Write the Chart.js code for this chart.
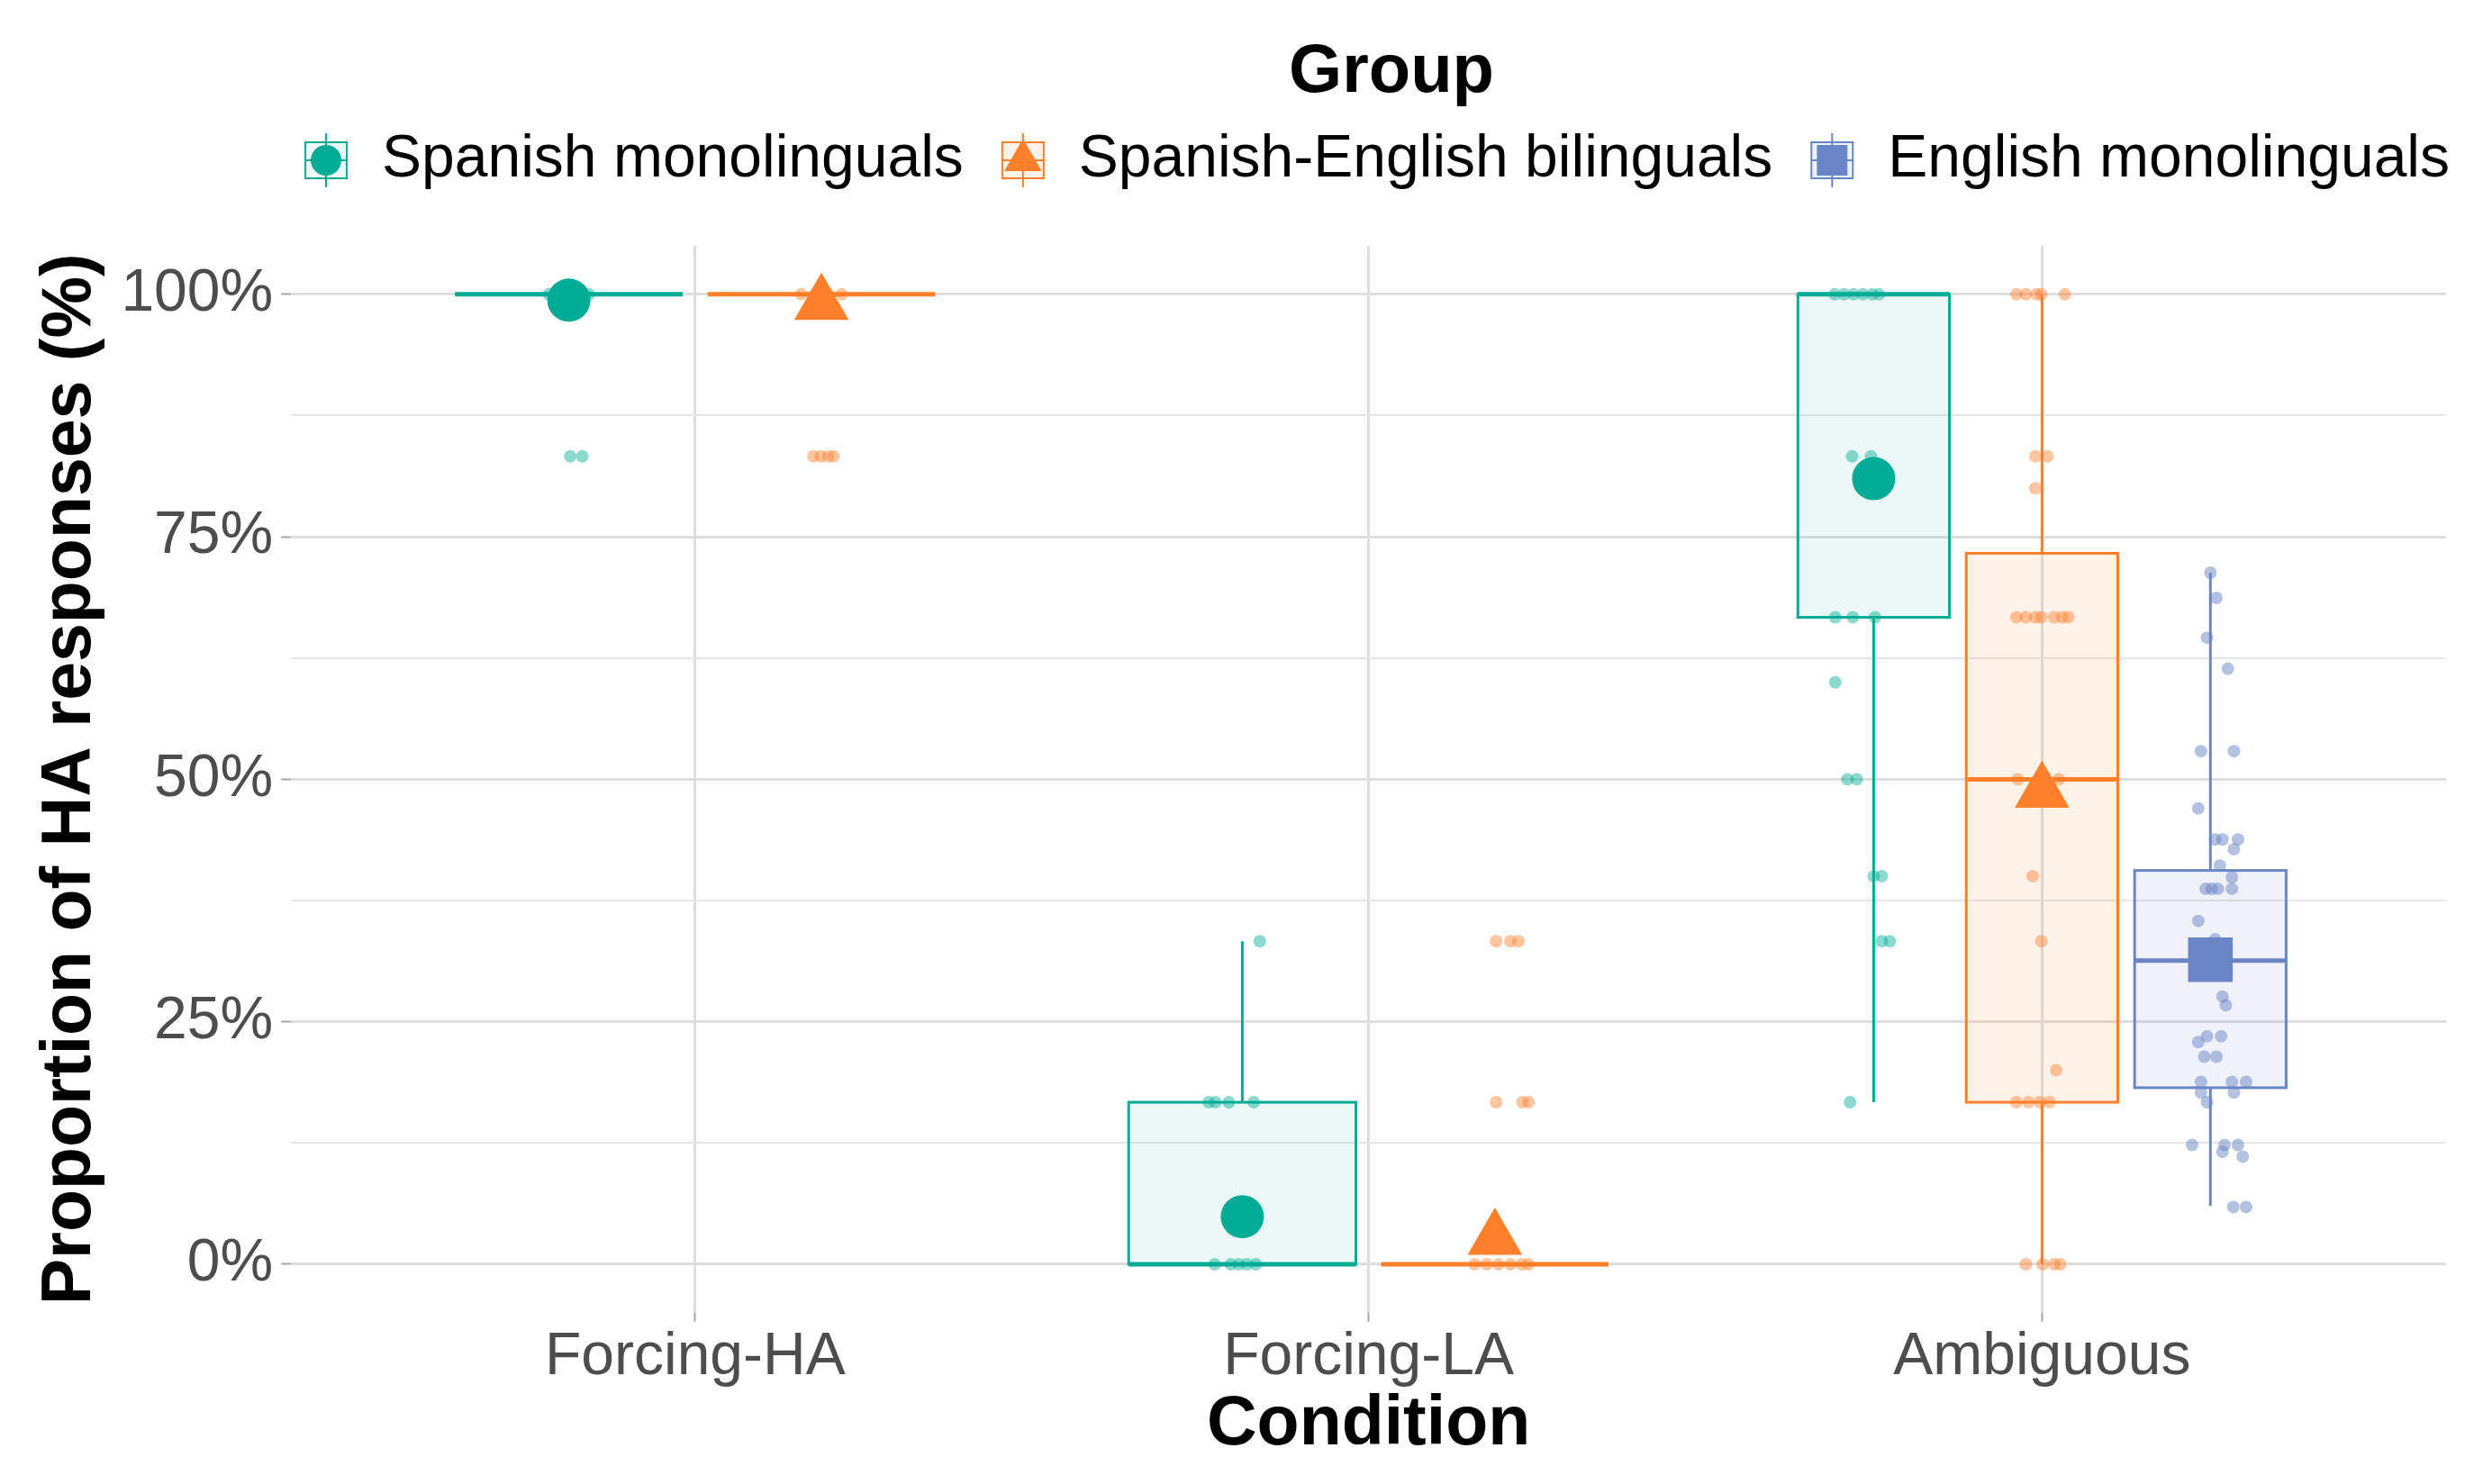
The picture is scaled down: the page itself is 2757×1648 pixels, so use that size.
<!DOCTYPE html>
<html>
<head>
<meta charset="utf-8">
<script src="https://cdn.jsdelivr.net/npm/chart.js@4.4.1/dist/chart.umd.min.js"></script>
<style>
  html, body { margin: 0; padding: 0; background: #fff; }
  #wrap { width: 2757px; height: 1648px; }
</style>
</head>
<body>
<div id="wrap"><canvas id="haChart" width="2757" height="1648"></canvas></div>
<script>
const conditions = ['Forcing-HA', 'Forcing-LA', 'Ambiguous'];
const groups = ['Spanish monolinguals', 'Spanish-English bilinguals', 'English monolinguals'];
const groupColors = ['#00AC95', '#FF7F2A', '#6A85C6'];
const boxFills = ['rgba(0,172,149,0.08)', 'rgba(255,127,42,0.1)', 'rgba(106,133,198,0.11)'];
const pointFills = ['rgba(0,172,149,0.45)', 'rgba(255,127,42,0.45)', 'rgba(106,133,198,0.5)'];
const meanStyles = ['circle', 'triangle', 'rect'];
const meanRadius = [24, 35, 35];

const yMajor = [0, 25, 50, 75, 100];
const yMinor = [12.5, 37.5, 62.5, 87.5];

// [lower whisker, Q1, median, Q3, upper whisker] per condition (null = group not tested)
const spMonoBox = [[100, 100, 100, 100, 100], [0, 0, 0, 16.7, 33.3], [16.7, 66.7, 100, 100, 100]];
const biBox = [[100, 100, 100, 100, 100], [0, 0, 0, 0, 0], [0, 16.7, 50, 73.3, 100]];
const enMonoBox = [null, null, [6.0, 18.2, 31.3, 40.6, 71.3]];

// group means per condition
const spMonoMean = [99.4, 4.9, 81.0];
const biMean = [99.0, 2.6, 48.7];
const enMonoMean = [null, null, 31.4];

// participants: [condition index, % HA responses, horizontal jitter]
const spMonoPts = [
  [0, 100, -0.03], [0, 100, -0.01], [0, 100, 0.01], [0, 100, 0.03], [0, 83.3, 0.002], [0, 83.3, 0.02],
  [1, 0, -0.041], [1, 0, -0.017], [1, 0, -0.005], [1, 0, 0.007], [1, 0, 0.02],
  [1, 16.7, -0.05], [1, 16.7, -0.04], [1, 16.7, -0.02], [1, 16.7, 0.017], [1, 33.3, 0.026],
  [2, 100, -0.058], [2, 100, -0.044], [2, 100, -0.03], [2, 100, -0.016], [2, 100, -0.002], [2, 100, 0.008],
  [2, 83.3, -0.032], [2, 83.3, -0.004],
  [2, 66.7, -0.057], [2, 66.7, -0.031], [2, 66.7, 0.002],
  [2, 60, -0.057], [2, 50, -0.039], [2, 50, -0.025], [2, 40, 0], [2, 40, 0.012],
  [2, 33.3, 0.012], [2, 33.3, 0.024], [2, 16.7, -0.035]
];
const biPts = [
  [0, 100, -0.03], [0, 100, -0.01], [0, 100, 0.01], [0, 100, 0.03],
  [0, 83.3, -0.012], [0, 83.3, -0.001], [0, 83.3, 0.01], [0, 83.3, 0.018],
  [1, 0, -0.03], [1, 0, -0.012], [1, 0, 0.005], [1, 0, 0.023], [1, 0, 0.04], [1, 0, 0.05],
  [1, 16.7, 0.002], [1, 16.7, 0.041], [1, 16.7, 0.05],
  [1, 33.3, 0.002], [1, 33.3, 0.023], [1, 33.3, 0.035],
  [2, 100, -0.038], [2, 100, -0.024], [2, 100, -0.008], [2, 100, -0.001], [2, 100, 0.034],
  [2, 83.3, -0.01], [2, 83.3, 0.008], [2, 80, -0.01],
  [2, 66.7, -0.038], [2, 66.7, -0.024], [2, 66.7, -0.01], [2, 66.7, -0.001], [2, 66.7, 0.018], [2, 66.7, 0.03], [2, 66.7, 0.039],
  [2, 50, -0.036], [2, 50, 0.025], [2, 40, -0.014], [2, 33.3, -0.001], [2, 20, 0.021],
  [2, 16.7, -0.038], [2, 16.7, -0.02], [2, 16.7, -0.003], [2, 16.7, 0.011],
  [2, 0, -0.024], [2, 0, 0.001], [2, 0, 0.018], [2, 0, 0.027]
];
const enMonoPts = [
  [2, 71.3, 0], [2, 68.7, 0.009], [2, 64.6, -0.005], [2, 61.4, 0.026],
  [2, 52.9, -0.014], [2, 52.9, 0.035], [2, 47.0, -0.018],
  [2, 43.8, 0.007], [2, 43.8, 0.018], [2, 43.8, 0.041], [2, 42.8, 0.035], [2, 41.1, 0.014], [2, 39.9, 0.032],
  [2, 38.7, -0.007], [2, 38.7, 0.002], [2, 38.7, 0.011], [2, 38.7, 0.032],
  [2, 35.4, -0.018], [2, 33.5, 0.007], [2, 27.6, 0.018], [2, 26.7, 0.023],
  [2, 23.5, -0.005], [2, 23.5, 0.016], [2, 22.9, -0.018], [2, 21.4, -0.009], [2, 21.4, 0.009],
  [2, 18.8, -0.014], [2, 18.8, 0.032], [2, 18.8, 0.053], [2, 17.7, -0.014], [2, 17.7, 0.035], [2, 16.7, -0.005],
  [2, 12.3, -0.027], [2, 12.3, 0.021], [2, 12.3, 0.041], [2, 11.6, 0.018], [2, 11.1, 0.048],
  [2, 5.9, 0.034], [2, 5.9, 0.053]
];

const boxesByGroup = [spMonoBox, biBox, enMonoBox];
const meansByGroup = [spMonoMean, biMean, enMonoMean];
const ptsByGroup = [spMonoPts, biPts, enMonoPts];

// dodge position of a group inside a condition (ggplot-style, width 0.75)
function slot(g, c) {
  const present = boxesByGroup.map(b => b[c] != null);
  const n = present.filter(Boolean).length;
  const k = present.slice(0, g).filter(Boolean).length;
  return { off: (k - (n - 1) / 2) * 0.75 / n, half: 0.9 * 0.75 / n / 2 };
}

const datasets = [];
groups.forEach((name, g) => {
  datasets.push({
    label: name + ' mean',
    data: meansByGroup[g].map((m, c) => m == null ? null : { x: c + slot(g, c).off, y: m }).filter(Boolean),
    pointStyle: meanStyles[g],
    pointRadius: meanRadius[g],
    backgroundColor: groupColors[g],
    borderWidth: 0,
    order: 0
  });
  datasets.push({
    label: name,
    data: ptsByGroup[g].map(([c, v, j]) => ({ x: c + slot(g, c).off + j, y: v })),
    pointRadius: 7,
    backgroundColor: pointFills[g],
    borderWidth: 0,
    order: 1
  });
});

const boxPlugin = {
  id: 'boxes',
  beforeDatasetsDraw(chart) {
    const { ctx, scales: { x, y } } = chart;
    boxesByGroup.forEach((stats, g) => {
      stats.forEach((s, c) => {
        if (!s) return;
        const { off, half } = slot(g, c);
        const cx = x.getPixelForValue(c + off);
        const x0 = x.getPixelForValue(c + off - half);
        const x1 = x.getPixelForValue(c + off + half);
        const [lo, q1, med, q3, hi] = s.map(v => y.getPixelForValue(v));
        ctx.save();
        ctx.strokeStyle = groupColors[g];
        ctx.lineWidth = 3;
        ctx.beginPath();
        ctx.moveTo(cx, lo); ctx.lineTo(cx, q1);
        ctx.moveTo(cx, q3); ctx.lineTo(cx, hi);
        ctx.stroke();
        ctx.fillStyle = boxFills[g];
        ctx.fillRect(x0, q3, x1 - x0, q1 - q3);
        ctx.strokeRect(x0, q3, x1 - x0, q1 - q3);
        ctx.lineWidth = 5;
        ctx.beginPath();
        ctx.moveTo(x0, med); ctx.lineTo(x1, med);
        ctx.stroke();
        ctx.restore();
      });
    });
  }
};

// legend glyphs: small box + mean marker
function legendKey(g) {
  const cv = document.createElement('canvas');
  cv.width = 56; cv.height = 60;
  const k = cv.getContext('2d');
  k.strokeStyle = groupColors[g];
  k.lineWidth = 2;
  k.beginPath(); k.moveTo(28, 0); k.lineTo(28, 60); k.stroke();
  k.fillStyle = boxFills[g];
  k.fillRect(5, 10, 46, 40);
  k.strokeRect(5, 10, 46, 40);
  k.beginPath(); k.moveTo(5, 30); k.lineTo(51, 30); k.stroke();
  k.fillStyle = groupColors[g];
  Chart.helpers.drawPoint(k, { pointStyle: meanStyles[g], radius: [17, 24, 24][g], borderWidth: 0 }, 28, 30);
  return cv;
}
const legendKeys = groups.map((_, g) => legendKey(g));

const fontFamily = "'Liberation Sans', Arial, sans-serif";
Chart.defaults.font.family = fontFamily;

const isMajor = v => yMajor.includes(v);

new Chart(document.getElementById('haChart').getContext('2d'), {
  type: 'scatter',
  data: { datasets },
  plugins: [boxPlugin],
  options: {
    responsive: false,
    animation: false,
    events: [],
    layout: { padding: { left: 30, right: 0, top: 0, bottom: 27 } },
    plugins: {
      tooltip: { enabled: false },
      legend: {
        position: 'top',
        align: 'end',
        onClick: null,
        title: {
          display: true, text: 'Group', color: '#000',
          font: { size: 76, weight: 'bold', lineHeight: 1 },
          padding: { top: 43, bottom: -11 }
        },
        labels: {
          usePointStyle: true,
          boxWidth: 58, boxHeight: 58,
          padding: 37,
          color: '#000',
          font: { size: 66 },
          generateLabels: () => groups.map((name, g) => ({
            text: name, pointStyle: legendKeys[g], fillStyle: groupColors[g],
            strokeStyle: groupColors[g], lineWidth: 0, hidden: false, datasetIndex: g * 2 + 1
          }))
        }
      }
    },
    scales: {
      x: {
        type: 'linear', min: -0.6, max: 2.6,
        afterBuildTicks: s => { s.ticks = conditions.map((_, i) => ({ value: i })); },
        ticks: {
          callback: v => conditions[v], color: '#4D4D4D', font: { size: 66 },
          padding: 0, autoSkip: false, maxRotation: 0
        },
        grid: { color: '#DEDEDE', lineWidth: 3, tickLength: 10, tickColor: '#A6A6A6', tickWidth: 2 },
        border: { display: false },
        title: {
          display: true, text: 'Condition', color: '#000',
          font: { size: 77, weight: 'bold', lineHeight: 1 },
          padding: { top: -3, bottom: 0 }
        }
      },
      y: {
        min: -5, max: 105,
        afterBuildTicks: s => {
          s.ticks = yMajor.concat(yMinor).sort((a, b) => a - b).map(v => ({ value: v }));
        },
        ticks: {
          callback: v => isMajor(v) ? v + '%' : '', color: '#4D4D4D',
          font: { size: 66 }, padding: 9, autoSkip: false
        },
        grid: {
          color: c => isMajor(c.tick.value) ? '#DEDEDE' : '#E6E6E6',
          lineWidth: c => isMajor(c.tick.value) ? 3 : 2,
          tickLength: 11,
          tickColor: c => isMajor(c.tick.value) ? '#A6A6A6' : 'rgba(0,0,0,0)',
          tickWidth: 2
        },
        border: { display: false },
        title: {
          display: true, text: 'Proportion of HA responses (%)', color: '#000',
          font: { size: 77, weight: 'bold', lineHeight: 1.2 },
          padding: { top: 3, bottom: 0 }
        }
      },
      x2: {
        type: 'linear', position: 'top',
        grid: { display: false }, ticks: { display: false }, border: { display: false },
        afterFit: s => { s.height = 52; }
      },
      y2: {
        type: 'linear', position: 'right',
        grid: { display: false }, ticks: { display: false }, border: { display: false },
        afterFit: s => { s.width = 41; }
      }
    }
  }
});
</script>
</body>
</html>
